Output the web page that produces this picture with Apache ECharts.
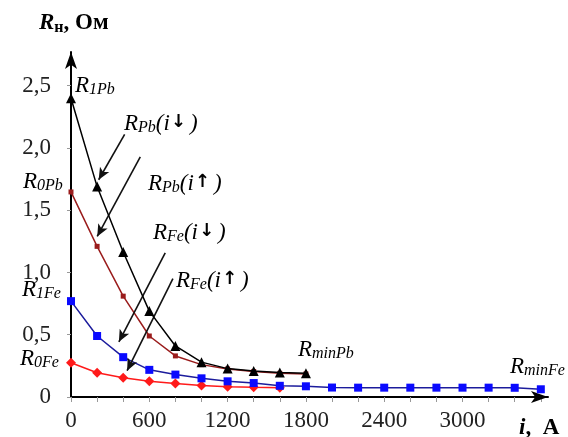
<!DOCTYPE html>
<html>
<head>
<meta charset="utf-8">
<script src="https://cdn.jsdelivr.net/npm/echarts@6/dist/echarts.min.js"></script>
<style>html,body{margin:0;padding:0;background:#fff}#c{width:568px;height:437px}</style>
</head>
<body>
<div id="c"></div>
<script>
// current i, A
const current = [0,200,400,600,800,1000,1200,1400,1600,1800,2000,2200,2400,2600,2800,3000,3200,3400,3600];
// resistance, Ohm
const rPbDown = [2.40,1.69,1.165,0.69,0.41,0.28,0.228,0.209,0.196,0.19];
const rPbUp   = [1.647,1.21,0.81,0.49,0.33,0.26,0.225,0.205,0.19,0.185];
const rFeDown = [0.77,0.49,0.32,0.218,0.18,0.15,0.126,0.112,0.09,0.086,0.076,0.075,0.075,0.075,0.075,0.075,0.075,0.074,0.062];
const rFeUp   = [0.275,0.195,0.155,0.127,0.108,0.092,0.082,0.078,0.075];
const xTickLabels = [0,600,1200,1800,2400,3000];
const xTicks = [0,200,400,600,800,1000,1200,1400,1600,1800,2000,2200,2400,2600,2800,3000,3200,3400,3600];
const yTickLabels = [0,0.5,1.0,1.5,2.0,2.5];

const pairs = vals => vals.map((v,k)=>[current[k], v]);
const FONT = 'Liberation Serif';

const chart = echarts.init(document.getElementById('c'), null, {renderer:'canvas'});

const rich = {
  r: {fontFamily:FONT, fontStyle:'italic', fontSize:23, lineHeight:24, verticalAlign:'top', padding:[0,0,4,0], color:'#222'},
  s: {fontFamily:FONT, fontStyle:'italic', fontSize:16, lineHeight:15, verticalAlign:'bottom', color:'#222'},
  t: {fontFamily:FONT, fontStyle:'italic', fontSize:23, lineHeight:24, verticalAlign:'top', padding:[0,0,4,0], color:'#222'},
  a: {fontFamily:'DejaVu Sans', fontWeight:'bold', fontSize:18, lineHeight:24, verticalAlign:'top', padding:[1,4,4,1], color:'#222'},
  rb: {fontFamily:FONT, fontStyle:'italic', fontWeight:'bold', fontSize:23, lineHeight:24, verticalAlign:'top', padding:[0,0,4,0], color:'#111'},
  sb: {fontFamily:FONT, fontWeight:'bold', fontSize:16, lineHeight:14, verticalAlign:'bottom', color:'#111'},
  tb: {fontFamily:FONT, fontWeight:'bold', fontSize:23, lineHeight:24, verticalAlign:'top', padding:[0,0,4,0], color:'#111'}
};
function lbl(x, y, text){
  return {type:'text', x:x, y:y, z:100, style:{text:text, rich:rich, align:'left', verticalAlign:'top'}};
}

const arrowLines = [
  [{coord:[411,2.11]},{coord:[212,1.745]}],
  [{coord:[531,1.928]},{coord:[201,1.29]}],
  [{coord:[722,1.157]},{coord:[367,0.443]}],
  [{coord:[781,0.951]},{coord:[430,0.211]}]
];

chart.setOption({
  animation:false,
  backgroundColor:'#fff',
  grid:{left:71, right:20, top:52, bottom:40, containLabel:false},
  xAxis:{
    type:'value', min:0, max:3655, interval:600,
    axisLine:{show:true, lineStyle:{color:'#000', width:2}, symbol:['none','arrow'], symbolSize:[9,17]},
    axisTick:{show:true, length:5, inside:false, lineStyle:{color:'#999', width:1}, customValues:xTicks},
    axisLabel:{fontFamily:FONT, fontSize:23, color:'#222', margin:12, customValues:xTickLabels, formatter:v=>String(v)},
    splitLine:{show:false}
  },
  yAxis:{
    type:'value', min:0, max:2.771, interval:0.5,
    axisLine:{show:true, lineStyle:{color:'#000', width:2}, symbol:['none','arrow'], symbolSize:[9,17]},
    axisTick:{show:true, length:4, lineStyle:{color:'#999', width:1}, customValues:yTickLabels},
    axisLabel:{fontFamily:FONT, fontSize:23, color:'#222', margin:20, customValues:yTickLabels,
      formatter:v=> v===0 ? '0' : v.toFixed(1).replace('.',',')},
    splitLine:{show:false}
  },
  series:[
    {name:'RFe up', type:'line', data:pairs(rFeUp), symbol:'diamond', symbolSize:10,
      lineStyle:{color:'#ff1a1a', width:1.5}, itemStyle:{color:'#ff1a1a'}, z:2},
    {name:'RFe down', type:'line', data:pairs(rFeDown), symbol:'rect', symbolSize:8,
      lineStyle:{color:'#1c1c9c', width:1.5}, itemStyle:{color:'#0a0aff'}, z:3},
    {name:'RPb up', type:'line', data:pairs(rPbUp), symbol:'rect', symbolSize:5,
      lineStyle:{color:'#9a1c1c', width:1.5}, itemStyle:{color:'#9a1c1c'}, z:4},
    {name:'RPb down', type:'line', data:pairs(rPbDown), symbol:'triangle', symbolSize:[10,10],
      lineStyle:{color:'#000', width:1.5}, itemStyle:{color:'#000'}, z:5,
      markLine:{silent:true, symbol:['none','arrow'], symbolSize:[8,12], label:{show:false},
        lineStyle:{color:'#111', width:1.6, type:'solid'}, data:arrowLines}}
  ],
  graphic:[
    lbl(39, 12, '{rb|R}{sb|н}{tb|, Ом}'),
    lbl(519, 417, '{rb|i}{tb|,  A}'),
    lbl(75, 74, '{r|R}{s|1Pb}'),
    lbl(23, 170, '{r|R}{s|0Pb}'),
    lbl(22, 278, '{r|R}{s|1Fe}'),
    lbl(20, 347, '{r|R}{s|0Fe}'),
    lbl(298, 338, '{r|R}{s|minPb}'),
    lbl(510, 355, '{r|R}{s|minFe}'),
    lbl(124, 112, '{r|R}{s|Pb}{t|(i}{a|↓}{t|)}'),
    lbl(148, 172, '{r|R}{s|Pb}{t|(i}{a|↑}{t|)}'),
    lbl(153, 221, '{r|R}{s|Fe}{t|(i}{a|↓}{t|)}'),
    lbl(176, 269, '{r|R}{s|Fe}{t|(i}{a|↑}{t|)}')
  ]
});
</script>
</body>
</html>
